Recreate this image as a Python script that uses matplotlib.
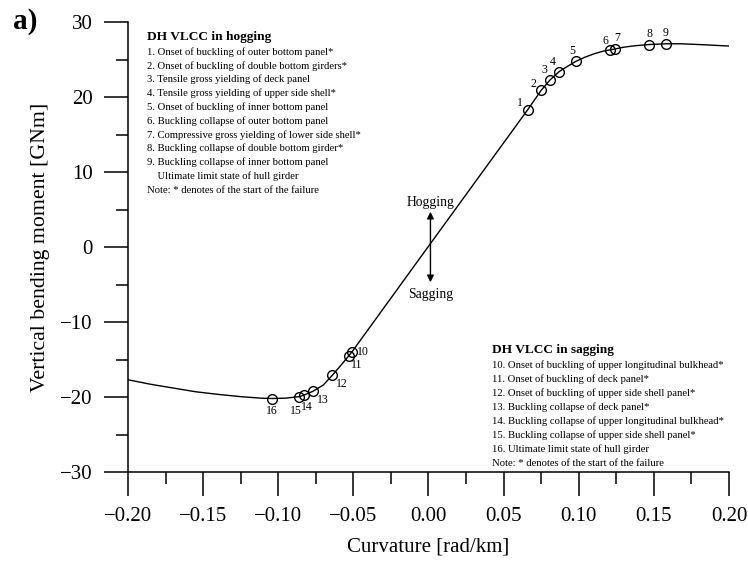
import matplotlib
matplotlib.use("Agg")
import matplotlib.pyplot as plt
from matplotlib.ticker import MultipleLocator, FuncFormatter

plt.rcParams['font.family'] = ['Liberation Serif', 'DejaVu Serif']

# Moment-curvature response of the hull girder
curv = [-0.200, -0.185, -0.170, -0.155, -0.140, -0.125, -0.112, -0.104, -0.095,
        -0.086, -0.083, -0.077, -0.070, -0.064, -0.058, -0.053, -0.051, 0.000,
        0.066, 0.075, 0.081, 0.087, 0.093, 0.098, 0.104, 0.110, 0.116, 0.121,
        0.124, 0.130, 0.138, 0.147, 0.158, 0.168, 0.180, 0.190, 0.200]
moment = [-17.7, -18.3, -18.8, -19.3, -19.65, -19.95, -20.15, -20.2, -20.15,
          -19.95, -19.75, -19.25, -18.4, -17.1, -15.7, -14.5, -14.0, 0.1,
          18.3, 20.9, 22.3, 23.4, 24.15, 24.75, 25.3, 25.75, 26.1, 26.3,
          26.4, 26.65, 26.85, 27.0, 27.1, 27.1, 27.0, 26.9, 26.8]

# Failure events along the curve
event_ids = ['1', '2', '3', '4', '5', '6', '7', '8', '9',
             '10', '11', '12', '13', '14', '15', '16']
event_curv = [0.066, 0.075, 0.081, 0.087, 0.098, 0.121, 0.124, 0.147, 0.158,
              -0.051, -0.053, -0.064, -0.077, -0.083, -0.086, -0.104]
event_moment = [18.3, 20.9, 22.3, 23.4, 24.75, 26.3, 26.4, 27.0, 27.1,
                -14.0, -14.5, -17.1, -19.25, -19.75, -19.95, -20.2]
label_offsets = [(-8, 7), (-8, 6), (-6, 10), (-6, 10), (-3, 10), (-5, 9), (2, 11),
                 (0, 11), (0, 11), (11, 0), (8, -9), (9, -9), (10, -9), (3, -12),
                 (-3, -14), (0, -12)]

hogging_items = [
    "1. Onset of buckling of outer bottom panel*",
    "2. Onset of buckling of double bottom girders*",
    "3. Tensile gross yielding of deck panel",
    "4. Tensile gross yielding of upper side shell*",
    "5. Onset of buckling of inner bottom panel",
    "6. Buckling collapse of outer bottom panel",
    "7. Compressive gross yielding of lower side shell*",
    "8. Buckling collapse of double bottom girder*",
    "9. Buckling collapse of inner bottom panel",
    "    Ultimate limit state of hull girder",
    "Note: * denotes of the start of the failure",
]
sagging_items = [
    "10. Onset of buckling of upper longitudinal bulkhead*",
    "11. Onset of buckling of deck panel*",
    "12. Onset of buckling of upper side shell panel*",
    "13. Buckling collapse of deck panel*",
    "14. Buckling collapse of upper longitudinal bulkhead*",
    "15. Buckling collapse of upper side shell panel*",
    "16. Ultimate limit state of hull girder",
    "Note: * denotes of the start of the failure",
]

fig = plt.figure(figsize=(7.48, 5.65), dpi=100)
ax = fig.add_axes([0.1711, 0.1646, 0.8035, 0.7964])

ax.plot(curv, moment, color='black', lw=1.0)
ax.plot(event_curv, event_moment, 'o', ms=7, mfc='none', mec='black', mew=1.0)
for lab, x, y, off in zip(event_ids, event_curv, event_moment, label_offsets):
    ax.annotate(lab, (x, y), xytext=off, textcoords='offset pixels',
                ha='center', va='center', fontsize=8.5)

# Hogging / sagging direction arrow
ax.annotate('', xy=(0.0013, 4.7), xytext=(0.0013, -4.7),
            arrowprops=dict(arrowstyle='<|-|>', color='black', lw=1.0,
                            mutation_scale=10, shrinkA=0, shrinkB=0))
ax.text(0.0013, 5.9, 'Hogging', ha='center', va='center', fontsize=9.8)
ax.text(0.0013, -6.3, 'Sagging', ha='center', va='center', fontsize=9.8)

ax.set_xlim(-0.2, 0.2)
ax.set_ylim(-30, 30)
ax.xaxis.set_major_locator(MultipleLocator(0.05))
ax.xaxis.set_minor_locator(MultipleLocator(0.025))
ax.yaxis.set_major_locator(MultipleLocator(10))
ax.yaxis.set_minor_locator(MultipleLocator(5))
ax.xaxis.set_major_formatter(
    FuncFormatter(lambda v, p: f'{v:.2f}'.replace('-', '\u2212')))
ax.yaxis.set_major_formatter(
    FuncFormatter(lambda v, p: f'{v:.0f}'.replace('-', '\u2212')))
ax.tick_params(which='major', direction='out', length=17.5, width=1.1,
               labelsize=15, pad=8)
ax.tick_params(which='minor', direction='out', length=8.5, width=1.1)
for s in ('top', 'right'):
    ax.spines[s].set_visible(False)
for s in ('left', 'bottom'):
    ax.spines[s].set_linewidth(1.1)

ax.set_xlabel('Curvature [rad/km]', fontsize=15, labelpad=8)
ax.set_ylabel('Vertical bending moment [GNm]', fontsize=15.7, labelpad=7)

fig.text(0.018, 0.962, 'a)', fontsize=21, fontweight='bold', ha='left', va='center')

# Event descriptions
def text_block(x_px, y_px, title, items, step=13.8):
    fig.text(x_px / 748, 1 - y_px / 565, title, fontsize=9.6,
             fontweight='bold', ha='left', va='center')
    for i, item in enumerate(items):
        fig.text(x_px / 748, 1 - (y_px + 15 + i * step) / 565, item,
                 fontsize=7.7, ha='left', va='center')

text_block(147, 37, 'DH VLCC in hogging', hogging_items)
text_block(492, 350, 'DH VLCC in sagging', sagging_items, step=14.0)

fig.savefig('out.png', dpi=100)
